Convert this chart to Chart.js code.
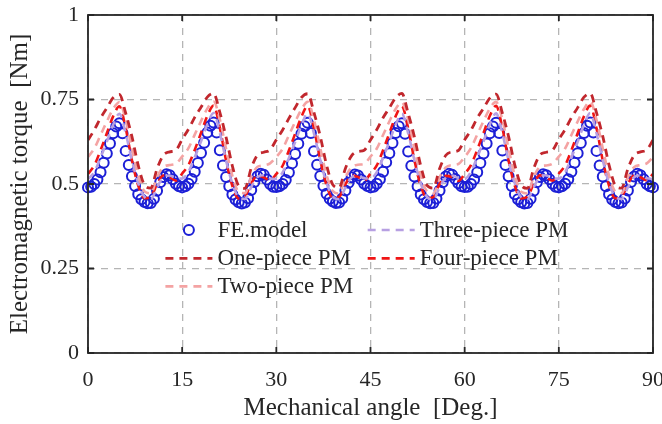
<!DOCTYPE html>
<html>
<head>
<meta charset="utf-8">
<title>Electromagnetic torque</title>
<script src="https://cdn.jsdelivr.net/npm/chart.js"></script>
<style>
  html, body { margin: 0; padding: 0; background: #fff; }
  #wrap { width: 662px; height: 424px; }
</style>
</head>
<body>
<div id="wrap"><canvas id="torque-chart" width="662" height="424"></canvas></div>
<script>
// torque vs. mechanical angle: FE samples every 0.5 deg, analytical models every 1 deg
var feTorque = [
  0.490,0.492,0.500,0.513,0.535,0.563,0.590,0.620,0.650,0.670,0.680,0.650,0.598,0.556,0.523,0.494,0.470,0.455,0.447,0.443,0.444,0.456,0.480,0.505,0.521,0.529,0.526,0.514,0.501,0.493,
  0.490,0.493,0.501,0.515,0.536,0.562,0.592,0.622,0.652,0.672,0.682,0.652,0.600,0.555,0.521,0.493,0.469,0.454,0.446,0.442,0.445,0.458,0.482,0.506,0.523,0.530,0.527,0.513,0.500,0.492,
  0.491,0.493,0.500,0.512,0.534,0.561,0.589,0.619,0.649,0.671,0.681,0.651,0.597,0.557,0.524,0.495,0.471,0.456,0.448,0.444,0.445,0.457,0.481,0.504,0.520,0.528,0.525,0.513,0.501,0.494,
  0.490,0.492,0.501,0.514,0.536,0.564,0.591,0.621,0.651,0.671,0.680,0.649,0.596,0.554,0.522,0.493,0.469,0.455,0.447,0.443,0.444,0.457,0.481,0.505,0.522,0.530,0.527,0.515,0.502,0.493,
  0.491,0.492,0.500,0.513,0.535,0.562,0.590,0.620,0.650,0.670,0.681,0.651,0.599,0.556,0.523,0.494,0.470,0.455,0.446,0.442,0.444,0.456,0.480,0.505,0.521,0.529,0.526,0.514,0.501,0.492,
  0.490,0.493,0.501,0.514,0.536,0.563,0.591,0.621,0.651,0.672,0.682,0.652,0.598,0.555,0.522,0.493,0.470,0.454,0.447,0.443,0.445,0.457,0.481,0.506,0.522,0.530,0.526,0.514,0.500,0.493,
  0.490
];

var onePiece = [
  0.630,0.660,0.695,0.725,0.755,0.765,0.710,0.640,0.555,0.497,0.488,0.545,0.585,0.595,0.600,
  0.632,0.662,0.697,0.727,0.757,0.768,0.712,0.638,0.553,0.495,0.487,0.547,0.586,0.594,0.601,
  0.631,0.660,0.694,0.726,0.756,0.767,0.711,0.641,0.556,0.498,0.489,0.546,0.584,0.596,0.600,
  0.630,0.661,0.696,0.725,0.755,0.768,0.709,0.639,0.554,0.496,0.488,0.545,0.585,0.595,0.599,
  0.631,0.659,0.695,0.724,0.754,0.766,0.710,0.640,0.555,0.497,0.487,0.546,0.586,0.594,0.600,
  0.632,0.661,0.696,0.726,0.757,0.768,0.711,0.641,0.556,0.496,0.488,0.545,0.585,0.595,0.601,
  0.630
];

var twoPiece = [
  0.580,0.605,0.645,0.685,0.722,0.742,0.690,0.605,0.525,0.478,0.472,0.520,0.550,0.556,0.560,
  0.581,0.606,0.646,0.686,0.723,0.744,0.691,0.604,0.524,0.477,0.473,0.521,0.551,0.555,0.561,
  0.580,0.604,0.644,0.684,0.721,0.743,0.689,0.606,0.526,0.479,0.472,0.519,0.550,0.557,0.560,
  0.581,0.605,0.645,0.685,0.722,0.742,0.690,0.605,0.525,0.478,0.471,0.520,0.549,0.556,0.559,
  0.580,0.606,0.646,0.686,0.723,0.743,0.691,0.604,0.524,0.477,0.472,0.521,0.551,0.555,0.560,
  0.581,0.605,0.645,0.685,0.722,0.744,0.690,0.605,0.525,0.478,0.473,0.520,0.550,0.556,0.561,
  0.580
];

var threePiece = [
  0.515,0.535,0.578,0.625,0.675,0.708,0.650,0.570,0.502,0.462,0.455,0.490,0.520,0.525,0.517,
  0.516,0.536,0.579,0.626,0.676,0.710,0.651,0.569,0.501,0.461,0.456,0.491,0.521,0.526,0.516,
  0.515,0.534,0.577,0.624,0.674,0.709,0.649,0.571,0.503,0.463,0.455,0.489,0.520,0.524,0.517,
  0.516,0.535,0.578,0.625,0.675,0.708,0.650,0.570,0.502,0.462,0.454,0.490,0.519,0.525,0.518,
  0.515,0.536,0.579,0.626,0.676,0.709,0.651,0.569,0.501,0.461,0.455,0.491,0.521,0.526,0.516,
  0.516,0.535,0.578,0.625,0.675,0.710,0.650,0.570,0.502,0.462,0.456,0.490,0.520,0.525,0.517,
  0.515
];

var fourPiece = [
  0.530,0.555,0.600,0.650,0.700,0.730,0.665,0.570,0.495,0.458,0.462,0.500,0.525,0.520,0.510,
  0.531,0.556,0.601,0.651,0.701,0.732,0.666,0.569,0.494,0.457,0.463,0.501,0.526,0.519,0.511,
  0.530,0.554,0.599,0.649,0.699,0.731,0.664,0.571,0.496,0.459,0.462,0.499,0.525,0.521,0.510,
  0.531,0.555,0.600,0.650,0.700,0.730,0.665,0.570,0.495,0.458,0.461,0.500,0.524,0.520,0.509,
  0.530,0.556,0.601,0.651,0.701,0.731,0.666,0.569,0.494,0.457,0.462,0.501,0.526,0.519,0.510,
  0.531,0.555,0.600,0.650,0.700,0.732,0.665,0.570,0.495,0.458,0.463,0.500,0.525,0.520,0.511,
  0.530
];

var feAngles = feTorque.map(function (v, i) { return i * 0.5; });
var lineAngles = onePiece.map(function (v, i) { return i; });

var xTicks = [0, 15, 30, 45, 60, 75, 90];
var yTicks = [0, 0.25, 0.5, 0.75, 1];

var seriesNames = ["FE.model", "One-piece PM", "Two-piece PM", "Three-piece PM", "Four-piece PM"];

var serif = '"Liberation Serif", "Times New Roman", serif';
var textColor = "#262626";
var frameColor = "#262626";
var gridColor = "#b5b5b5";

function points(xs, ys) {
	return ys.map(function (y, i) { return { x: xs[i], y: y }; });
}

function dashed(label, values, color, width) {
	return {
		label: label,
		data: points(lineAngles, values),
		borderColor: color,
		backgroundColor: color,
		borderWidth: width,
		borderDash: [8, 6],
		pointRadius: 0,
		showLine: true,
		cubicInterpolationMode: "monotone",
		fill: false,
		order: 1,
	};
}

// frame, inward tick marks and the two-column legend
var axesBox = {
	id: "axesBox",
	afterDraw: function (chart) {
		var ctx = chart.ctx;
		var a = chart.chartArea;
		var xs = chart.scales.x;
		var ys = chart.scales.y;
		var tl = 6;

		ctx.save();
		ctx.strokeStyle = frameColor;
		ctx.lineWidth = 1.8;
		ctx.setLineDash([]);
		ctx.strokeRect(a.left, a.top, a.right - a.left, a.bottom - a.top);
		ctx.beginPath();
		xTicks.forEach(function (t) {
			var px = xs.getPixelForValue(t);
			ctx.moveTo(px, a.bottom); ctx.lineTo(px, a.bottom - tl);
			ctx.moveTo(px, a.top); ctx.lineTo(px, a.top + tl);
		});
		yTicks.forEach(function (t) {
			var py = ys.getPixelForValue(t);
			ctx.moveTo(a.left, py); ctx.lineTo(a.left + tl, py);
			ctx.moveTo(a.right, py); ctx.lineTo(a.right - tl, py);
		});
		ctx.stroke();

		// legend, column-major in 3 rows
		var w = a.right - a.left;
		var h = a.bottom - a.top;
		var cols = [a.left + w * 0.137, a.left + w * 0.495];
		var rows = [a.top + h * 0.636, a.top + h * 0.72, a.top + h * 0.803];
		var sampleLen = 47;
		ctx.font = "23px " + serif;
		ctx.textBaseline = "middle";
		ctx.textAlign = "left";
		chart.data.datasets.forEach(function (ds, i) {
			var cx = cols[Math.floor(i / 3)];
			var cy = rows[i % 3];
			if (i === 0) {
				ctx.setLineDash([]);
				ctx.strokeStyle = ds.borderColor;
				ctx.lineWidth = ds.borderWidth;
				ctx.beginPath();
				ctx.arc(cx + sampleLen / 2, cy, ds.pointRadius, 0, Math.PI * 2);
				ctx.stroke();
			} else {
				ctx.setLineDash(ds.borderDash);
				ctx.strokeStyle = ds.borderColor;
				ctx.lineWidth = ds.borderWidth;
				ctx.beginPath();
				ctx.moveTo(cx, cy);
				ctx.lineTo(cx + sampleLen, cy);
				ctx.stroke();
			}
			ctx.fillStyle = textColor;
			ctx.fillText(ds.label, cx + sampleLen + 5, cy + 1);
		});
		ctx.restore();
	},
};

function plainLabel(value) {
	return String(value);
}

var ctx = document.getElementById("torque-chart").getContext("2d");
var torqueChart = new Chart(ctx, {
	type: "scatter",
	data: {
		datasets: [
			{
				label: seriesNames[0],
				data: points(feAngles, feTorque),
				borderColor: "#1c1fd6",
				backgroundColor: "rgba(0,0,0,0)",
				borderWidth: 2,
				pointRadius: 5,
				pointStyle: "circle",
				showLine: false,
				clip: false,
				order: 5,
			},
			dashed(seriesNames[1], onePiece, "#c1272d", 2.8),
			dashed(seriesNames[2], twoPiece, "#f4a3a3", 2.6),
			dashed(seriesNames[3], threePiece, "#b7a0e2", 2.6),
			dashed(seriesNames[4], fourPiece, "#f01515", 2.6),
		],
	},
	options: {
		responsive: false,
		animation: false,
		devicePixelRatio: 1,
		layout: { padding: { top: 15, right: 9, left: 0, bottom: 0 } },
		plugins: {
			legend: { display: false },
			tooltip: { enabled: false },
		},
		scales: {
			x: {
				type: "linear",
				min: 0,
				max: 90,
				afterBuildTicks: function (scale) {
					scale.ticks = xTicks.map(function (v) { return { value: v }; });
				},
				afterFit: function (scale) {
					scale.height = 71;
					scale.paddingLeft = 0;
					scale.paddingRight = 0;
				},
				ticks: {
					font: { family: serif, size: 22 },
					color: textColor,
					padding: 14,
					maxRotation: 0,
					callback: plainLabel,
				},
				grid: { color: gridColor, lineWidth: 1.3, drawTicks: false },
				border: { display: false, dash: [7, 6] },
				title: {
					display: true,
					text: "Mechanical angle  [Deg.]",
					font: { family: serif, size: 25 },
					color: textColor,
					padding: { top: 0, bottom: 1 },
				},
			},
			y: {
				min: 0,
				max: 1,
				afterBuildTicks: function (scale) {
					scale.ticks = yTicks.map(function (v) { return { value: v }; });
				},
				afterFit: function (scale) {
					scale.width = 88;
					scale.paddingTop = 0;
					scale.paddingBottom = 0;
				},
				ticks: {
					font: { family: serif, size: 22 },
					color: textColor,
					padding: 9,
					callback: plainLabel,
				},
				grid: { color: gridColor, lineWidth: 1.3, drawTicks: false },
				border: { display: false, dash: [7, 6] },
				title: {
					display: true,
					text: "Electromagnetic torque  [Nm]",
					font: { family: serif, size: 25 },
					color: textColor,
					padding: { top: 5, bottom: 0 },
				},
			},
		},
	},
	plugins: [axesBox],
});
</script>
</body>
</html>
